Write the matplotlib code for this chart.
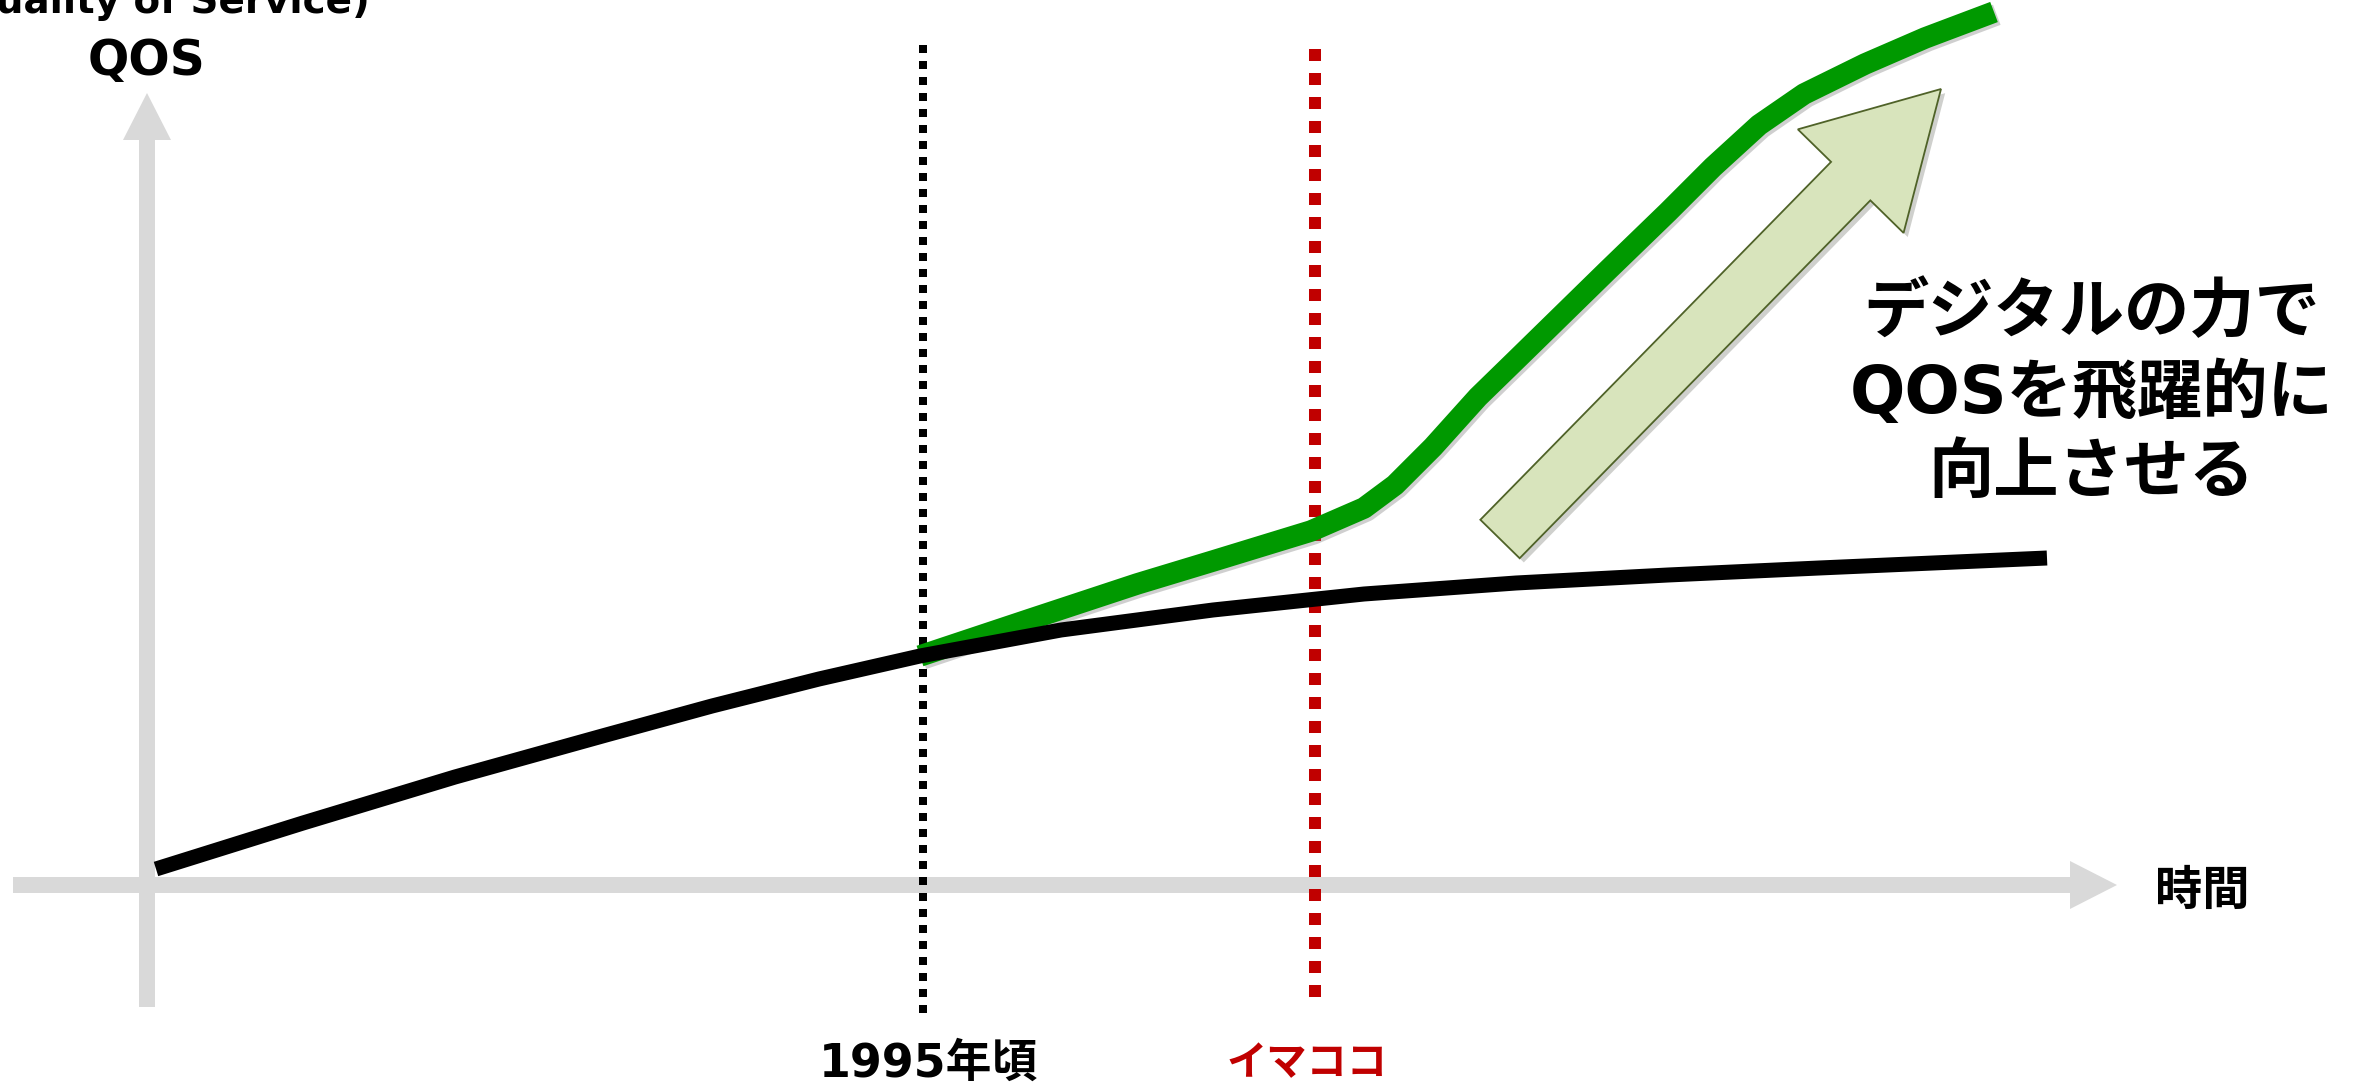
import matplotlib
matplotlib.use("Agg")
import matplotlib.pyplot as plt
import matplotlib.patheffects as pe
from matplotlib.patches import FancyArrow

# time (x) and QOS (y), origin where the two axes cross
base_t = [9, 156, 308, 459, 565, 672, 773, 914, 1066, 1217, 1369, 1521, 1672, 1900]
base_q = [16, 62, 108, 150, 179, 206, 229, 255, 275, 291, 302, 310, 317, 327]

digital_t = [773, 884, 990, 1066, 1164, 1217, 1248, 1286, 1331, 1369, 1460, 1521,
             1566, 1612, 1657, 1718, 1778, 1847]
digital_q = [229, 266, 301, 324, 354, 377, 400, 438, 488, 525, 614, 673,
             718, 760, 791, 821, 847, 873]

era_t = [776, 1168]
era_labels = ["1995年頃", "イマココ"]
era_colors = ["black", "#C00000"]

x_label = "時間"
y_label = "QOS"
y_sub = "(Quality of Service)"
message = "デジタルの力で\nQOSを飛躍的に\n向上させる"

GRAY = "#D9D9D9"
JP = ["Noto Sans CJK JP"]
MIX = ["DejaVu Sans", "Noto Sans CJK JP"]

fig = plt.figure(figsize=(23.77, 10.90), dpi=100)
ax = fig.add_axes([0, 0, 1, 1])
ax.set_xlim(-147, 2230)
ax.set_ylim(-205, 885)
ax.axis("off")

# axes as gray arrows
ax.add_patch(FancyArrow(0, -122, 0, 914, width=16, head_width=48, head_length=47,
                        length_includes_head=True, color=GRAY, lw=0, zorder=1))
ax.add_patch(FancyArrow(-134, 0, 2104, 0, width=16, head_width=48, head_length=47,
                        length_includes_head=True, color=GRAY, lw=0, zorder=1))

# era markers
ax.plot([era_t[0], era_t[0]], [840, -128], color=era_colors[0], lw=5.76,
        dashes=(1, 1), solid_capstyle="butt", dash_capstyle="butt", zorder=2)
ax.plot([era_t[1], era_t[1]], [836, -112], color=era_colors[1], lw=8.64,
        dashes=(1, 1), solid_capstyle="butt", dash_capstyle="butt", zorder=2)

ax.text(era_t[0] + 5, -179, era_labels[0], family=MIX, fontweight="bold",
        fontsize=33, color=era_colors[0], ha="center", va="center")
ax.text(era_t[1] - 8, -179, era_labels[1], family=JP, fontweight="bold",
        fontsize=29, color=era_colors[1], ha="center", va="center")

# curves
ax.plot(digital_t, digital_q, color="#009900", lw=15.5, solid_capstyle="butt",
        solid_joinstyle="round", zorder=4,
        path_effects=[pe.SimpleLineShadow(offset=(2, -2), shadow_color="#777777", alpha=0.35),
                      pe.Normal()])
ax.plot(base_t, base_q, color="black", lw=10.8, solid_capstyle="butt",
        solid_joinstyle="round", zorder=5)

# big hollow arrow
big = FancyArrow(1353, 346, 441, 450, width=55, head_width=148, head_length=129,
                 length_includes_head=True, facecolor="#D8E4BC", edgecolor="#4F6228",
                 lw=1.3, zorder=3,
                 path_effects=[pe.SimplePatchShadow(offset=(3, -3), alpha=0.25), pe.Normal()])
ax.add_patch(big)

ax.text(1945, 491, message, family=MIX, fontweight="bold", fontsize=47,
        ha="center", va="center", linespacing=1.3, color="black")

# axis labels
ax.text(2055, -6, x_label, family=JP, fontweight="bold", fontsize=34,
        ha="center", va="center")
ax.text(0, 810, y_label, family=MIX, fontweight="bold", fontsize=35,
        ha="center", va="baseline")
ax.text(10, 872, y_sub, family=MIX, fontweight="bold", fontsize=28,
        ha="center", va="baseline")

fig.savefig("out.png", dpi=100)
